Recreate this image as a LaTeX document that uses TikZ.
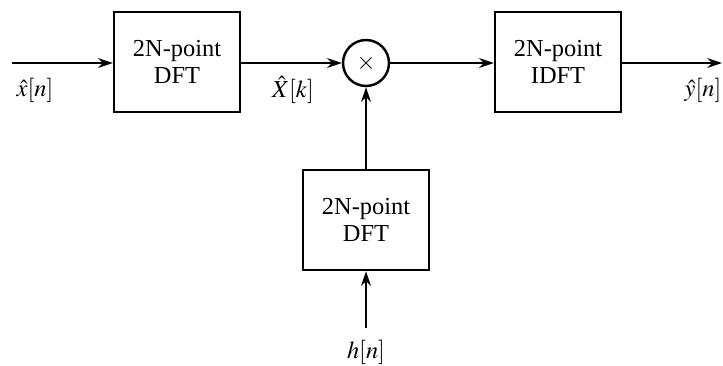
\documentclass[tikz,border=0pt]{standalone}
\usepackage{amsmath}
\usepackage{mathptmx}
\usepackage{fontspec}
\setmainfont{Liberation Serif}
\usepackage{tikz}
\usetikzlibrary{arrows.meta,positioning}
\tikzset{>={Stealth[length=6pt,width=4pt]}}
\tikzset{
  dftbox/.style={draw,line width=1pt,minimum width=1.814cm,minimum height=1.44cm,
    align=center,font=\fontsize{10}{11}\selectfont},
  mult/.style={draw,circle,line width=1pt,minimum size=0.662cm,inner sep=0pt},
  sig/.style={inner sep=1pt,font=\fontsize{10}{12}\selectfont}
}

\begin{document}
\begin{tikzpicture}[x=0.0144cm,y=-0.0144cm,line width=0.9pt]
	\useasboundingbox (0,0) rectangle (723,365);
	\coordinate (in) at (12,63);
	\coordinate (out) at (722,63);
	\coordinate (hin) at (366,328);
	\node[dftbox] (dft) at (177,62) {2N-point\\DFT};
	\node[mult] (times) at (366,63) {$\times$};
	\node[dftbox] (idft) at (558,62) {2N-point\\IDFT};
	\node[dftbox] (hdft) at (366,220) {2N-point\\DFT};
	\draw[->] (in) -- (dft.west |- in);
	\draw[->] (dft.east |- times) -- (times.west);
	\draw[->] (times.east) -- (idft.west |- times);
	\draw[->] (idft.east |- out) -- (out);
	\draw[->] (hdft.north) -- (times.south);
	\draw[->] (hin) -- (hdft.south);
	\node[sig] (xlab) at (35,90) {$\hat{x}[n]$};
	\node[sig] (Xlab) at (293,90) {$\hat{X}[k]$};
	\node[sig] (ylab) at (703,90) {$\hat{y}[n]$};
	\node[sig] (hlab) at (366,352) {$h[n]$};
\end{tikzpicture}
\end{document}
